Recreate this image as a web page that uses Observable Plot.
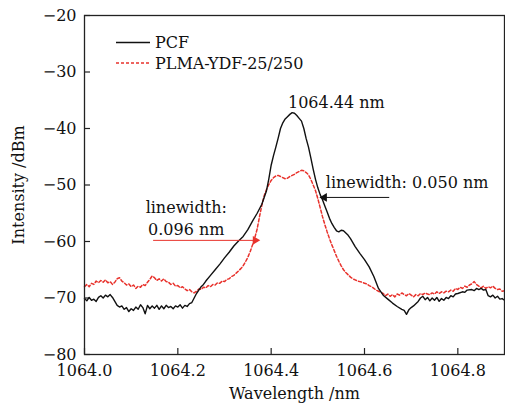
<!DOCTYPE html>
<html><head><meta charset="utf-8">
<script src="https://cdn.jsdelivr.net/npm/d3@7"></script>
<script src="https://cdn.jsdelivr.net/npm/@observablehq/plot@0.6"></script>
<style>
body{margin:0;background:#fff}
#chart{position:relative;width:505px;height:404px;font-family:'DejaVu Serif',serif}
#legend{position:absolute;left:0;top:0}
</style></head><body><div id="chart"></div>
<script>
// ---- data ----
const seriesNames = ["PCF", "PLMA-YDF-25/250"];
const seriesColors = ["#111111", "#e8322c"];
const xTicks = [1064.0, 1064.2, 1064.4, 1064.6, 1064.8];
const yTicks = [-20, -30, -40, -50, -60, -70, -80];
const xDomain = [1064.0, 1064.9];
const yDomain = [-80, -20];

const pcf = [
[1064.000,-70.1],[1064.005,-70.5],[1064.010,-69.9],[1064.015,-70.4],[1064.020,-70.2],[1064.025,-70.6],
[1064.030,-69.9],[1064.035,-69.6],[1064.040,-70.0],[1064.045,-69.5],[1064.050,-69.8],[1064.055,-69.4],
[1064.060,-69.9],[1064.065,-70.6],[1064.070,-71.3],[1064.075,-71.6],[1064.080,-71.4],[1064.085,-72.0],
[1064.090,-71.7],[1064.095,-72.4],[1064.100,-71.9],[1064.105,-72.2],[1064.110,-71.6],[1064.115,-72.0],
[1064.120,-71.2],[1064.125,-71.7],[1064.130,-72.8],[1064.135,-71.3],[1064.140,-71.9],[1064.145,-71.4],
[1064.150,-71.8],[1064.155,-71.3],[1064.160,-72.0],[1064.165,-71.4],[1064.170,-71.9],[1064.175,-71.3],
[1064.180,-71.7],[1064.185,-71.5],[1064.190,-71.9],[1064.195,-71.4],[1064.200,-71.6],[1064.205,-71.2],
[1064.210,-71.8],[1064.215,-71.3],[1064.220,-71.5],[1064.225,-71.0],[1064.230,-70.8],[1064.235,-70.0],
[1064.240,-69.2],[1064.245,-68.6],[1064.250,-68.0],[1064.255,-67.6],[1064.260,-67.0],[1064.270,-66.0],
[1064.280,-65.0],[1064.290,-64.0],[1064.300,-62.9],[1064.310,-61.9],[1064.320,-60.8],[1064.330,-59.9],
[1064.340,-59.1],[1064.350,-57.9],[1064.360,-56.4],[1064.370,-55.0],[1064.380,-53.4],[1064.385,-52.2],
[1064.390,-51.0],[1064.395,-48.9],[1064.400,-46.5],[1064.405,-44.8],[1064.410,-43.3],[1064.415,-41.7],
[1064.420,-40.0],[1064.425,-39.0],[1064.430,-38.3],[1064.435,-37.9],[1064.440,-37.5],[1064.445,-37.2],
[1064.450,-37.3],[1064.455,-37.7],[1064.460,-38.2],[1064.465,-38.7],[1064.470,-40.0],[1064.475,-41.8],
[1064.480,-43.3],[1064.485,-45.2],[1064.490,-47.2],[1064.495,-49.0],[1064.500,-50.5],[1064.505,-51.7],
[1064.510,-52.6],[1064.515,-53.7],[1064.520,-54.8],[1064.525,-55.9],[1064.530,-56.8],[1064.535,-57.5],
[1064.540,-58.1],[1064.545,-58.3],[1064.550,-58.0],[1064.555,-58.1],[1064.560,-58.5],[1064.565,-58.9],
[1064.570,-59.5],[1064.580,-60.9],[1064.590,-62.1],[1064.600,-63.2],[1064.610,-64.5],[1064.620,-66.2],
[1064.630,-68.3],[1064.640,-69.5],[1064.650,-70.2],[1064.660,-70.9],[1064.670,-71.5],[1064.680,-72.0],
[1064.685,-72.2],[1064.690,-72.9],[1064.695,-72.1],[1064.700,-71.7],[1064.705,-71.4],[1064.710,-71.0],
[1064.715,-70.6],[1064.720,-70.0],[1064.725,-69.7],[1064.730,-70.3],[1064.735,-69.9],[1064.740,-70.5],
[1064.745,-70.0],[1064.750,-70.4],[1064.755,-69.9],[1064.760,-70.6],[1064.765,-70.1],[1064.770,-70.4],
[1064.775,-69.9],[1064.780,-70.1],[1064.785,-69.6],[1064.790,-69.8],[1064.795,-69.3],[1064.800,-69.2],
[1064.810,-68.9],[1064.815,-69.0],[1064.820,-68.6],[1064.830,-68.5],[1064.835,-68.7],[1064.840,-68.3],
[1064.845,-68.5],[1064.850,-68.3],[1064.855,-68.6],[1064.860,-68.5],[1064.865,-69.6],[1064.870,-69.8],
[1064.875,-69.5],[1064.880,-70.0],[1064.885,-69.7],[1064.890,-70.2],[1064.895,-70.1],[1064.900,-70.4]
];

const plma = [
[1064.000,-68.0],[1064.005,-67.6],[1064.010,-68.0],[1064.015,-67.4],[1064.020,-67.6],[1064.025,-67.0],
[1064.030,-67.3],[1064.035,-66.9],[1064.040,-67.2],[1064.045,-66.8],[1064.050,-67.3],[1064.055,-67.1],
[1064.060,-67.6],[1064.065,-67.2],[1064.070,-66.6],[1064.075,-66.4],[1064.080,-67.0],[1064.085,-67.3],
[1064.090,-67.7],[1064.095,-67.5],[1064.100,-68.0],[1064.105,-67.7],[1064.110,-68.3],[1064.115,-67.9],
[1064.120,-68.1],[1064.125,-67.6],[1064.130,-67.8],[1064.135,-67.2],[1064.140,-66.7],[1064.145,-66.1],
[1064.150,-66.4],[1064.155,-66.9],[1064.160,-66.6],[1064.165,-67.0],[1064.170,-66.6],[1064.175,-67.1],
[1064.180,-67.2],[1064.185,-67.6],[1064.190,-67.4],[1064.195,-67.9],[1064.200,-67.8],[1064.205,-68.2],
[1064.210,-68.0],[1064.215,-68.4],[1064.220,-68.7],[1064.225,-68.5],[1064.230,-68.9],[1064.235,-69.1],
[1064.240,-68.8],[1064.245,-68.4],[1064.250,-68.5],[1064.255,-68.1],[1064.260,-68.2],[1064.265,-67.8],
[1064.270,-68.0],[1064.275,-67.6],[1064.280,-67.7],[1064.285,-67.3],[1064.290,-67.4],[1064.295,-67.0],
[1064.300,-67.1],[1064.305,-66.7],[1064.310,-66.6],[1064.315,-66.2],[1064.320,-66.0],[1064.325,-65.6],
[1064.330,-65.2],[1064.335,-64.8],[1064.340,-64.3],[1064.345,-63.6],[1064.350,-62.8],[1064.355,-61.8],
[1064.360,-60.6],[1064.365,-59.3],[1064.370,-57.8],[1064.375,-55.6],[1064.380,-53.6],[1064.385,-51.9],
[1064.390,-50.8],[1064.395,-49.9],[1064.400,-49.2],[1064.405,-48.7],[1064.410,-48.4],[1064.415,-48.3],
[1064.420,-48.5],[1064.425,-48.7],[1064.430,-48.9],[1064.435,-48.8],[1064.440,-48.5],[1064.445,-48.3],
[1064.450,-48.1],[1064.455,-47.8],[1064.460,-47.6],[1064.465,-47.4],[1064.470,-47.5],[1064.475,-47.8],
[1064.480,-48.2],[1064.485,-49.0],[1064.490,-50.0],[1064.495,-51.0],[1064.500,-52.4],[1064.505,-54.0],
[1064.510,-55.6],[1064.515,-57.0],[1064.520,-58.3],[1064.525,-59.5],[1064.530,-60.6],[1064.535,-61.6],
[1064.540,-62.6],[1064.545,-63.5],[1064.550,-64.3],[1064.555,-65.0],[1064.560,-65.5],[1064.565,-65.9],
[1064.570,-66.3],[1064.575,-66.6],[1064.580,-66.8],[1064.585,-67.0],[1064.590,-67.1],[1064.595,-67.2],
[1064.600,-67.4],[1064.605,-67.5],[1064.610,-67.8],[1064.615,-68.0],[1064.620,-68.3],[1064.625,-68.6],
[1064.630,-68.8],[1064.635,-69.0],[1064.640,-69.2],[1064.645,-69.6],[1064.650,-69.3],[1064.655,-69.7],
[1064.660,-69.4],[1064.665,-69.8],[1064.670,-69.3],[1064.675,-69.5],[1064.680,-69.1],[1064.685,-69.4],
[1064.690,-69.6],[1064.695,-69.2],[1064.700,-69.5],[1064.705,-69.8],[1064.710,-69.4],[1064.715,-69.6],
[1064.720,-69.2],[1064.725,-69.4],[1064.730,-69.1],[1064.735,-69.3],[1064.740,-69.4],[1064.745,-69.1],
[1064.750,-69.3],[1064.755,-68.9],[1064.760,-69.2],[1064.765,-68.9],[1064.770,-69.1],[1064.775,-68.8],
[1064.780,-68.9],[1064.785,-68.6],[1064.790,-68.8],[1064.795,-68.3],[1064.800,-68.5],[1064.805,-68.1],
[1064.810,-68.3],[1064.815,-67.9],[1064.820,-68.1],[1064.825,-67.7],[1064.830,-67.5],[1064.835,-67.1],
[1064.840,-67.6],[1064.845,-67.9],[1064.850,-68.2],[1064.855,-67.9],[1064.860,-68.3],[1064.865,-68.0],
[1064.870,-68.2],[1064.875,-67.9],[1064.880,-68.3],[1064.885,-68.5],[1064.890,-68.4],[1064.895,-68.8],
[1064.900,-68.7]
];

// annotations (data coordinates)
const peakLabel = [{x: 1064.436, y: -35.4, text: "1064.44 nm"}];
const rightLabel = [{x: 1064.517, y: -49.7, text: "linewidth: 0.050 nm"}];
const leftLabel = [{x: 1064.218, y: -55.6, text: "linewidth:\n0.096 nm"}];
const arrows = [
  {x1: 1064.653, x2: 1064.514, y: -52.2, color: "#111111", dir: -1},
  {x1: 1064.147, x2: 1064.366, y: -59.8, color: "#e8322c", dir: 1}
];

const font = "'DejaVu Serif', serif";
const marginLeft = 84, marginRight = 1, marginTop = 15, marginBottom = 50, W = 505, H = 404;
const frameW = W - marginLeft - marginRight, frameH = H - marginTop - marginBottom, tickLen = 6;

const chart = Plot.plot({
  width: W, height: H, marginLeft, marginRight, marginTop, marginBottom,
  style: {fontFamily: font, fontSize: "16px", color: "#111", background: "white", overflow: "visible"},
  x: {domain: xDomain},
  y: {domain: yDomain},
  marks: [
    Plot.axisX(xTicks, {tickSize: 0, tickPadding: 10, tickFormat: d3.format(".1f"), label: "Wavelength /nm",
      labelAnchor: "center", labelArrow: "none", labelOffset: 44, fontSize: 16}),
    Plot.axisY(yTicks, {tickSize: 0, tickPadding: 8, label: "Intensity /dBm",
      labelAnchor: "center", labelArrow: "none", labelOffset: 72, fontSize: 16}),
    Plot.tickX(xTicks, {x: d => d, insetTop: frameH - tickLen, stroke: "#222", strokeWidth: 1.2}),
    Plot.tickY(yTicks, {y: d => d, insetRight: frameW - tickLen, stroke: "#222", strokeWidth: 1.2}),
    Plot.line(plma, {x: d => d[0], y: d => d[1], stroke: seriesColors[1], strokeWidth: 1.5, strokeDasharray: "3,2.2"}),
    Plot.line(pcf, {x: d => d[0], y: d => d[1], stroke: seriesColors[0], strokeWidth: 1.4}),
    Plot.frame({stroke: "#222", strokeWidth: 1.3}),
    Plot.text(peakLabel, {x: "x", y: "y", text: "text", textAnchor: "start", fontSize: 16, fill: "#111"}),
    Plot.text(rightLabel, {x: "x", y: "y", text: "text", textAnchor: "start", fontSize: 16, fill: "#111"}),
    Plot.text(leftLabel, {x: "x", y: "y", text: "text", textAnchor: "middle", fontSize: 16, fill: "#111", lineHeight: 1.38}),
    Plot.link(arrows, {x1: "x1", x2: "x2", y1: "y", y2: "y", stroke: "color", strokeWidth: 1}),
    Plot.dot(arrows, {x: "x2", y: "y", symbol: "triangle", r: 3.2, fill: "color", stroke: "none",
      rotate: d => d.dir > 0 ? 90 : -90})
  ]
});
document.getElementById("chart").appendChild(chart);

// legend inside the frame, top-left
const leg = d3.select("#chart").append("svg").attr("id", "legend").attr("width", W).attr("height", H)
  .style("pointer-events", "none");
seriesNames.forEach((name, i) => {
  const y = 42.5 + i * 20.5;
  leg.append("line").attr("x1", 116).attr("x2", 150).attr("y1", y).attr("y2", y)
    .attr("stroke", seriesColors[i]).attr("stroke-width", i ? 1.3 : 1.4)
    .attr("stroke-dasharray", i ? "3,2" : null);
  leg.append("text").attr("x", 155).attr("y", y).attr("dy", "0.35em")
    .attr("font-family", font).attr("font-size", 16).attr("fill", "#111").text(name);
});
</script></body></html>
